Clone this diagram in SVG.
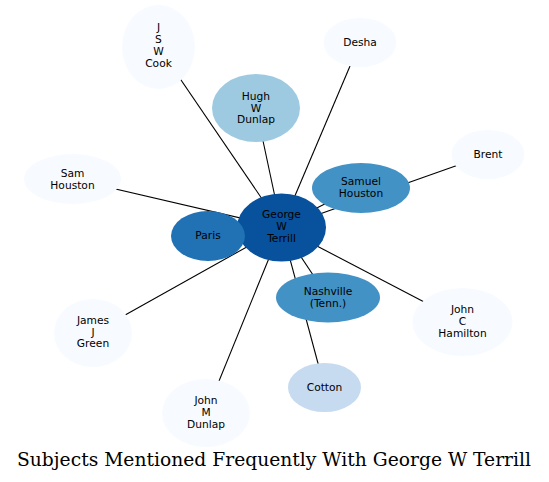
<svg xmlns="http://www.w3.org/2000/svg" width="549" height="482" viewBox="0 0 549 482">
<style>
.e{stroke:#000;stroke-width:1.1;fill:none}
.n text{font-family:"DejaVu Sans",sans-serif;font-size:10.67px;text-anchor:middle;fill:#000}
.l0{fill:#f7fbff}
.l1{fill:#c6dbef}
.l2{fill:#9ecae1}
.l3{fill:#4292c6}
.l4{fill:#2171b5}
.l5{fill:#08519c}
.t{font-family:"DejaVu Serif",serif;font-size:18.67px;text-anchor:middle;fill:#000}
</style>
<rect width="549" height="482" fill="#fff"/>
<g id="connectors">
<line class="e" x1="281.5" y1="227.5" x2="158.5" y2="47"/>
<line class="e" x1="281.5" y1="227.5" x2="256" y2="108"/>
<line class="e" x1="281.5" y1="227.5" x2="360" y2="42.5"/>
<line class="e" x1="281.5" y1="227.5" x2="488" y2="154.5"/>
<line class="e" x1="281.5" y1="225.5" x2="361" y2="186"/>
<line class="e" x1="281.5" y1="227.5" x2="72.5" y2="179"/>
<line class="e" x1="281.5" y1="227.5" x2="93" y2="333"/>
<line class="e" x1="281.5" y1="227.5" x2="206" y2="413"/>
<line class="e" x1="281.5" y1="227.5" x2="324.5" y2="387.5"/>
<line class="e" x1="281.5" y1="227.5" x2="328" y2="297.5"/>
<line class="e" x1="281.5" y1="227.5" x2="462.5" y2="322"/>
<line class="e" x1="237" y1="232.6" x2="238" y2="232.8"/>
</g>
<g id="jswcook" class="n"><ellipse class="l0" cx="158.5" cy="47" rx="36.5" ry="42"/><text x="158.5" y="31">J</text><text x="158.5" y="43">S</text><text x="158.5" y="55">W</text><text x="158.5" y="67">Cook</text></g>
<g id="desha" class="n"><ellipse class="l0" cx="360" cy="42.5" rx="36.5" ry="24.5"/><text x="360" y="46">Desha</text></g>
<g id="hugh" class="n"><ellipse class="l2" cx="256" cy="108" rx="44" ry="34"/><text x="256" y="99.5">Hugh</text><text x="256" y="111.5">W</text><text x="256" y="123">Dunlap</text></g>
<g id="brent" class="n"><ellipse class="l0" cx="488" cy="154.5" rx="36.5" ry="24.5"/><text x="488" y="158">Brent</text></g>
<g id="samhouston" class="n"><ellipse class="l0" cx="72.5" cy="179" rx="48.5" ry="25"/><text x="72.5" y="176.5">Sam</text><text x="72.5" y="188.5">Houston</text></g>
<g id="samuel" class="n"><ellipse class="l3" cx="361" cy="188" rx="49" ry="25"/><text x="361" y="185">Samuel</text><text x="361" y="197">Houston</text></g>
<g id="george" class="n"><ellipse class="l5" cx="281.5" cy="227.5" rx="44.5" ry="34"/><text x="281.5" y="218">George</text><text x="281.5" y="230">W</text><text x="281.5" y="242">Terrill</text></g>
<g id="paris" class="n"><ellipse class="l4" cx="208" cy="236" rx="37" ry="25"/><text x="208" y="239">Paris</text></g>
<g id="nashville" class="n"><ellipse class="l3" cx="328" cy="297.5" rx="52" ry="25"/><text x="328" y="294.5">Nashville</text><text x="328" y="306.5">(Tenn.)</text></g>
<g id="johnc" class="n"><ellipse class="l0" cx="462.5" cy="322" rx="50" ry="34"/><text x="462.5" y="313">John</text><text x="462.5" y="325">C</text><text x="462.5" y="337">Hamilton</text></g>
<g id="james" class="n"><ellipse class="l0" cx="93" cy="333" rx="39" ry="34"/><text x="93" y="323.5">James</text><text x="93" y="335.5">J</text><text x="93" y="347">Green</text></g>
<g id="johnm" class="n"><ellipse class="l0" cx="206" cy="413" rx="44" ry="34"/><text x="206" y="404">John</text><text x="206" y="416">M</text><text x="206" y="428">Dunlap</text></g>
<g id="cotton" class="n"><ellipse class="l1" cx="324.5" cy="387.5" rx="36.5" ry="24.5"/><text x="324.5" y="391">Cotton</text></g>
<text class="t" x="274" y="465.7" textLength="514" lengthAdjust="spacingAndGlyphs">Subjects Mentioned Frequently With George W Terrill</text>
</svg>
